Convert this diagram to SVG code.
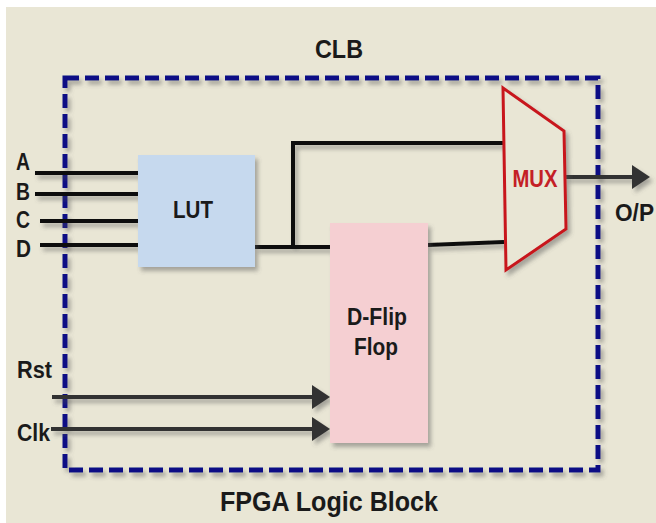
<svg xmlns="http://www.w3.org/2000/svg" width="656" height="523" viewBox="0 0 656 523">
  <defs>
    <filter id="sh" filterUnits="userSpaceOnUse" x="0" y="0" width="656" height="523">
      <feDropShadow dx="3" dy="4" stdDeviation="2" flood-color="#555" flood-opacity="0.45"/>
    </filter>
    <marker id="ah" markerUnits="userSpaceOnUse" viewBox="0 0 18 24" markerWidth="18" markerHeight="24" refX="8" refY="12" orient="auto">
      <path d="M0,0 L18,12 L0,24 Z" fill="#333"/>
    </marker>
    <style>
      text { font-family: "Liberation Sans", Arial, sans-serif; font-weight: bold; fill: #1a1a1a; }
      .lbl { font-size: 23px; }
      .wire { stroke: #111; stroke-width: 4; fill: none; filter: url(#sh); }
      .arr { stroke: #333; stroke-width: 4; fill: none; marker-end: url(#ah); filter: url(#sh); }
    </style>
  </defs>

  <rect x="0" y="0" width="656" height="523" fill="#ffffff"/>
  <rect x="6" y="7" width="650" height="516" fill="#e9e6d5"/>

  <g id="clb">
    <rect x="65" y="78" width="533" height="392" fill="none" stroke="#0a0f85" stroke-width="5" stroke-dasharray="14 6" filter="url(#sh)"/>
    <text x="339" y="58" text-anchor="middle" font-size="25" textLength="48" lengthAdjust="spacingAndGlyphs">CLB</text>
    <text x="329" y="511" text-anchor="middle" font-size="28" textLength="218" lengthAdjust="spacingAndGlyphs">FPGA Logic Block</text>
  </g>

  <g id="connectors">
    <line class="wire" x1="35" y1="173" x2="138" y2="173"/>
    <line class="wire" x1="35" y1="194" x2="138" y2="194"/>
    <line class="wire" x1="40" y1="221" x2="138" y2="221"/>
    <line class="wire" x1="40" y1="245" x2="138" y2="245"/>
    <path class="wire" d="M255,247 L330,247 M293,247 L293,143 L504,143"/>
    <line class="wire" x1="428" y1="245" x2="504" y2="242"/>
    <line class="arr" x1="52" y1="397" x2="320" y2="397"/>
    <line class="arr" x1="51" y1="429" x2="320" y2="429"/>
    <line class="arr" x1="565" y1="177" x2="640" y2="177"/>
  </g>

  <g id="inputs">
    <text class="lbl" x="16" y="170" textLength="14" lengthAdjust="spacingAndGlyphs">A</text>
    <text class="lbl" x="16" y="200" textLength="14" lengthAdjust="spacingAndGlyphs">B</text>
    <text class="lbl" x="16" y="228" textLength="14" lengthAdjust="spacingAndGlyphs">C</text>
    <text class="lbl" x="16" y="257" textLength="15" lengthAdjust="spacingAndGlyphs">D</text>
    <text class="lbl" x="17" y="378" textLength="35" lengthAdjust="spacingAndGlyphs">Rst</text>
    <text class="lbl" x="17" y="441" textLength="33" lengthAdjust="spacingAndGlyphs">Clk</text>
  </g>

  <g id="lut">
    <rect x="138" y="155" width="117" height="112" fill="#c6d9ee" filter="url(#sh)"/>
    <text class="lbl" x="193" y="218" text-anchor="middle" textLength="40" lengthAdjust="spacingAndGlyphs" fill="#222">LUT</text>
  </g>

  <g id="dff">
    <rect x="330" y="223" width="98" height="220" fill="#f5cfd2" filter="url(#sh)"/>
    <text class="lbl" x="377" y="325" text-anchor="middle" textLength="60" lengthAdjust="spacingAndGlyphs">D-Flip</text>
    <text class="lbl" x="376" y="355" text-anchor="middle" textLength="44" lengthAdjust="spacingAndGlyphs">Flop</text>
  </g>

  <g id="mux">
    <polygon points="503,88 564,131 566,229 506,270" fill="#e9e6d5" stroke="#c8161d" stroke-width="3" stroke-linejoin="miter" filter="url(#sh)"/>
    <text x="535" y="187" text-anchor="middle" font-size="23" textLength="45" lengthAdjust="spacingAndGlyphs" style="fill:#c42026">MUX</text>
  </g>

  <g id="output">
    <text class="lbl" x="615" y="221" textLength="39" lengthAdjust="spacingAndGlyphs">O/P</text>
  </g>
</svg>
